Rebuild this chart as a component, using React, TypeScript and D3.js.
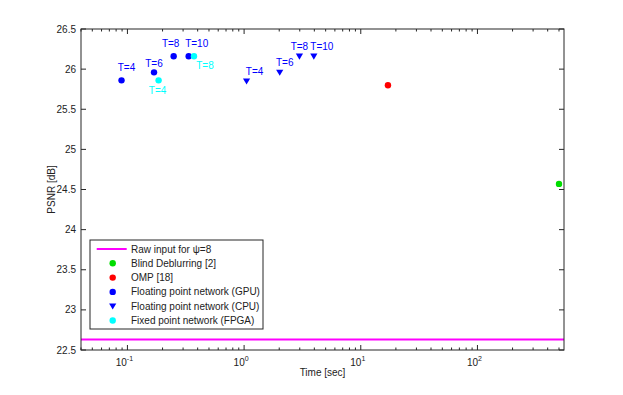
import React from "react";
import * as d3 from "d3";

// ---- data ----
const gpuTime = [0.089, 0.169, 0.249, 0.335];
const gpuPsnr = [25.86, 25.96, 26.16, 26.16];
const gpuLabels = ["T=4", "T=6", "T=8", "T=10"];

const cpuTime = [1.05, 2.02, 2.98, 3.96];
const cpuPsnr = [25.85, 25.96, 26.16, 26.16];
const cpuLabels = ["T=4", "T=6", "T=8", "T=10"];

const fpgaTime = [0.185, 0.372];
const fpgaPsnr = [25.86, 26.16];
const fpgaLabels = ["T=4", "T=8"];

const ompTime = [17.1];
const ompPsnr = [25.8];

const blindTime = [500];
const blindPsnr = [24.57];

const rawPsnr = 22.63;

const yTicks = [22.5, 23, 23.5, 24, 24.5, 25, 25.5, 26, 26.5];
const xMajor = [0.1, 1, 10, 100];
const xMajorExp = ["-1", "0", "1", "2"];

const legendLabels = [
  "Raw input for \u03c8=8",
  "Blind Deblurring [2]",
  "OMP [18]",
  "Floating point network (GPU)",
  "Floating point network (CPU)",
  "Fixed point network (FPGA)",
];

// label offsets (layout)
const gpuLabelOff = [[5, -9], [0, -5], [-3, -9], [8, -9]];
const cpuLabelOff = [[8, -6], [5, -6], [0, -6], [8, -6]];
const fpgaLabelOff = [[-1, 14], [11, 13]];

const BLUE = "#0000ff";
const CYAN = "#00ffff";
const RED = "#ff0000";
const GREEN = "#00dd00";
const MAGENTA = "#ff00ff";
const FONT = "'Liberation Sans', Arial, Helvetica, sans-serif";

export default function App() {
  const W = 623, H = 395;
  const left = 81, right = 564, top = 29, bottom = 350;
  const x = d3.scaleLog().domain([0.04, 552]).range([left, right]);
  const y = d3.scaleLinear().domain([22.5, 26.5]).range([bottom, top]);

  const minor: number[] = [];
  for (let e = -2; e <= 2; e++) {
    for (let m = 1; m <= 9; m++) {
      const v = m * Math.pow(10, e);
      if (v >= 0.04 && v <= 552 && m !== 1) minor.push(v);
    }
  }

  const tri = (cx: number, cy: number, s = 3.6) =>
    `M${cx - s},${cy - s * 0.75}L${cx + s},${cy - s * 0.75}L${cx},${cy + s * 0.95}Z`;

  const axisColor = "#262626";
  const r = 3.2;

  return (
    <svg width={W} height={H} style={{ position: "absolute", left: 0, top: 0 }} fontFamily={FONT}>
      <rect x={0} y={0} width={W} height={H} fill="#fff" />
      {/* raw input line */}
      <line x1={left} x2={right} y1={y(rawPsnr)} y2={y(rawPsnr)} stroke={MAGENTA} strokeWidth={2} />

      {/* axes box */}
      <rect x={left} y={top} width={right - left} height={bottom - top} fill="none" stroke={axisColor} strokeWidth={1} />

      {/* y ticks */}
      {yTicks.map((t) => (
        <g key={"y" + t}>
          <line x1={left} x2={left + 5} y1={y(t)} y2={y(t)} stroke={axisColor} />
          <line x1={right} x2={right - 5} y1={y(t)} y2={y(t)} stroke={axisColor} />
          <text x={left - 5} y={y(t)} dy="0.35em" textAnchor="end" fontSize={10} fill="#222">
            {d3.format("")(t)}
          </text>
        </g>
      ))}

      {/* x ticks */}
      {xMajor.map((t, i) => (
        <g key={"x" + t}>
          <line x1={x(t)} x2={x(t)} y1={bottom} y2={bottom - 5} stroke={axisColor} />
          <line x1={x(t)} x2={x(t)} y1={top} y2={top + 5} stroke={axisColor} />
          <text x={x(t) - 3} y={bottom + 16} textAnchor="middle" fontSize={10} fill="#222">
            10
            <tspan fontSize={7} dy={-5}>{xMajorExp[i]}</tspan>
          </text>
        </g>
      ))}
      {minor.map((t) => (
        <g key={"m" + t}>
          <line x1={x(t)} x2={x(t)} y1={bottom} y2={bottom - 2.5} stroke={axisColor} />
          <line x1={x(t)} x2={x(t)} y1={top} y2={top + 2.5} stroke={axisColor} />
        </g>
      ))}

      {/* axis titles */}
      <text x={(left + right) / 2} y={376} textAnchor="middle" fontSize={10} fill="#222">Time [sec]</text>
      <text transform={`translate(55,${(top + bottom) / 2}) rotate(-90)`} textAnchor="middle" fontSize={10} fill="#222">
        PSNR [dB]
      </text>

      {/* data */}
      {blindTime.map((t, i) => (
        <circle key={"b" + i} cx={x(t)} cy={y(blindPsnr[i])} r={r} fill={GREEN} />
      ))}
      {ompTime.map((t, i) => (
        <circle key={"o" + i} cx={x(t)} cy={y(ompPsnr[i])} r={r} fill={RED} />
      ))}
      {gpuTime.map((t, i) => (
        <g key={"g" + i}>
          <circle cx={x(t)} cy={y(gpuPsnr[i])} r={r} fill={BLUE} />
          <text x={x(t) + gpuLabelOff[i][0]} y={y(gpuPsnr[i]) + gpuLabelOff[i][1]} textAnchor="middle" fontSize={10} fill={BLUE}>
            {gpuLabels[i]}
          </text>
        </g>
      ))}
      {cpuTime.map((t, i) => (
        <g key={"c" + i}>
          <path d={tri(x(t), y(cpuPsnr[i]))} fill={BLUE} />
          <text x={x(t) + cpuLabelOff[i][0]} y={y(cpuPsnr[i]) + cpuLabelOff[i][1]} textAnchor="middle" fontSize={10} fill={BLUE}>
            {cpuLabels[i]}
          </text>
        </g>
      ))}
      {fpgaTime.map((t, i) => (
        <g key={"f" + i}>
          <circle cx={x(t)} cy={y(fpgaPsnr[i])} r={r} fill={CYAN} />
          <text x={x(t) + fpgaLabelOff[i][0]} y={y(fpgaPsnr[i]) + fpgaLabelOff[i][1]} textAnchor="middle" fontSize={10} fill={CYAN}>
            {fpgaLabels[i]}
          </text>
        </g>
      ))}

      {/* legend */}
      <g>
        <rect x={90} y={240} width={173} height={89} fill="#fff" stroke={axisColor} strokeWidth={1} />
        {legendLabels.map((lab, i) => {
          const ly = 249 + i * 14.3;
          const mx = 112.7;
          let marker: React.ReactNode = null;
          if (i === 0) marker = <line x1={96.7} x2={126.7} y1={ly} y2={ly} stroke={MAGENTA} strokeWidth={2} />;
          else if (i === 1) marker = <circle cx={mx} cy={ly} r={r} fill={GREEN} />;
          else if (i === 2) marker = <circle cx={mx} cy={ly} r={r} fill={RED} />;
          else if (i === 3) marker = <circle cx={mx} cy={ly} r={r} fill={BLUE} />;
          else if (i === 4) marker = <path d={tri(mx, ly)} fill={BLUE} />;
          else marker = <circle cx={mx} cy={ly} r={r} fill={CYAN} />;
          return (
            <g key={"l" + i}>
              {marker}
              <text x={131} y={ly} dy="0.35em" fontSize={10} fill="#222">{lab}</text>
            </g>
          );
        })}
      </g>
    </svg>
  );
}
